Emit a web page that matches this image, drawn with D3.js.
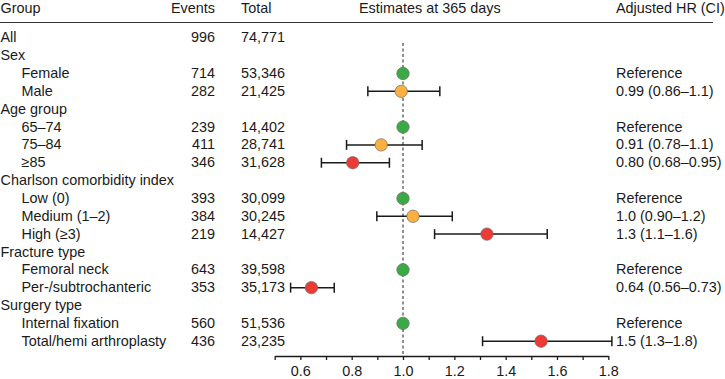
<!DOCTYPE html>
<html>
<head>
<meta charset="utf-8">
<script src="https://cdn.jsdelivr.net/npm/d3@7"></script>
<style>
  html, body { margin: 0; padding: 0; background: #fff; }
  svg { display: block; }
  text { font-family: "Liberation Sans", Arial, Helvetica, sans-serif; font-size: 14.4px; fill: #1a1a1a; }
</style>
</head>
<body>
<svg id="chart" width="725" height="379"></svg>
<script>
// ---- data ----
const labels = ["All", "Sex", "Female", "Male", "Age group", "65–74", "75–84", "≥85",
  "Charlson comorbidity index", "Low (0)", "Medium (1–2)", "High (≥3)",
  "Fracture type", "Femoral neck", "Per-/subtrochanteric",
  "Surgery type", "Internal fixation", "Total/hemi arthroplasty"];
const indented = [0,0,1,1,0,1,1,1,0,1,1,1,0,1,1,0,1,1];
const events = ["996","","714","282","","239","411","346","","393","384","219","","643","353","","560","436"];
const totals = ["74,771","","53,346","21,425","","14,402","28,741","31,628","","30,099","30,245","14,427","","39,598","35,173","","51,536","23,235"];
const hr =    [null,null,1,0.993,null,1,0.915,0.804,null,1,1.039,1.327,null,1,0.643,null,1,1.538];
const lower = [null,null,null,0.863,null,null,0.780,0.682,null,null,0.898,1.123,null,null,0.562,null,null,1.310];
const upper = [null,null,null,1.1435,null,null,1.0745,0.947,null,null,1.192,1.562,null,null,0.732,null,null,1.814];
const hrText = ["","","Reference","0.99 (0.86–1.1)","","Reference","0.91 (0.78–1.1)","0.80 (0.68–0.95)",
  "","Reference","1.0 (0.90–1.2)","1.3 (1.1–1.6)","","Reference","0.64 (0.56–0.73)","","Reference","1.5 (1.3–1.8)"];
const level = ["","","ref","mid","","ref","mid","high","","ref","mid","high","","ref","high","","ref","high"];
const headers = ["Group", "Events", "Total", "Estimates at 365 days", "Adjusted HR (CI)"];
const tickValues = [0.5,0.6,0.7,0.8,0.9,1.0,1.1,1.2,1.3,1.4,1.5,1.6,1.7,1.8];
const labelledTicks = [0.6,0.8,1.0,1.2,1.4,1.6,1.8];

const colors = { ref: "#3aaa45", mid: "#fbb040", high: "#ee3a34" };

// ---- layout ----
const svg = d3.select("#chart");
const x = d3.scaleLinear().domain([0.5, 1.8]).range([274.7, 608.3]);
const y = d3.scaleLinear().domain([0, 17]).range([37.8, 341.2]);
const axisY = 356;

// header
const hx = [0.5, 215, 241, 359, 616];
const ha = ["start", "end", "start", "start", "start"];
svg.selectAll("text.header").data(headers).join("text")
  .attr("class", "header")
  .attr("x", (d, i) => hx[i]).attr("y", 12.5)
  .attr("text-anchor", (d, i) => ha[i])
  .text(d => d);
svg.append("line").attr("x1", 0).attr("x2", 713).attr("y1", 22.5).attr("y2", 22.5)
  .attr("stroke", "#333").attr("stroke-width", 1.2);

// rows text
const rows = svg.append("g");
labels.forEach((lab, i) => {
  const by = y(i) + 4.6;
  rows.append("text").attr("x", indented[i] ? 21.5 : 0.5).attr("y", by).text(lab);
  if (events[i]) rows.append("text").attr("x", 215).attr("y", by).attr("text-anchor", "end").text(events[i]);
  if (totals[i]) rows.append("text").attr("x", 241).attr("y", by).text(totals[i]);
  if (hrText[i]) rows.append("text").attr("x", 616).attr("y", by).text(hrText[i]);
});

// reference dashed line
svg.append("line").attr("x1", x(1)).attr("x2", x(1)).attr("y1", 43).attr("y2", axisY)
  .attr("stroke", "#444").attr("stroke-width", 1.2).attr("stroke-dasharray", "3,2.5");

// error bars
const idx = d3.range(labels.length);
const ci = svg.append("g").attr("stroke", "#1a1a1a").attr("stroke-width", 1.5);
idx.filter(i => lower[i] != null).forEach(i => {
  const cy = y(i);
  ci.append("line").attr("x1", x(lower[i])).attr("x2", x(upper[i])).attr("y1", cy).attr("y2", cy);
  ci.append("line").attr("x1", x(lower[i])).attr("x2", x(lower[i])).attr("y1", cy - 5).attr("y2", cy + 5);
  ci.append("line").attr("x1", x(upper[i])).attr("x2", x(upper[i])).attr("y1", cy - 5).attr("y2", cy + 5);
});

// points
svg.append("g").selectAll("circle").data(idx.filter(i => hr[i] != null)).join("circle")
  .attr("cx", i => x(hr[i])).attr("cy", i => y(i)).attr("r", 6.2)
  .attr("fill", i => colors[level[i]])
  .attr("stroke", "#6b6b6b").attr("stroke-width", 0.7);

// axis
const axis = d3.axisBottom(x).tickValues(tickValues).tickSize(4).tickSizeOuter(0).tickPadding(6)
  .tickFormat(d => labelledTicks.some(v => Math.abs(v - d) < 1e-9) ? d3.format(".1f")(d) : "");
const ag = svg.append("g").attr("transform", `translate(0,${axisY})`).call(axis);
ag.select(".domain").attr("stroke", "#1a1a1a").attr("stroke-width", 1.3);
ag.selectAll(".tick line").attr("stroke", "#1a1a1a").attr("stroke-width", 1.3);
ag.selectAll(".tick text").attr("font-family", null).attr("font-size", null).attr("fill", "#1a1a1a");
ag.attr("font-family", null).attr("font-size", null);
</script>
</body>
</html>
